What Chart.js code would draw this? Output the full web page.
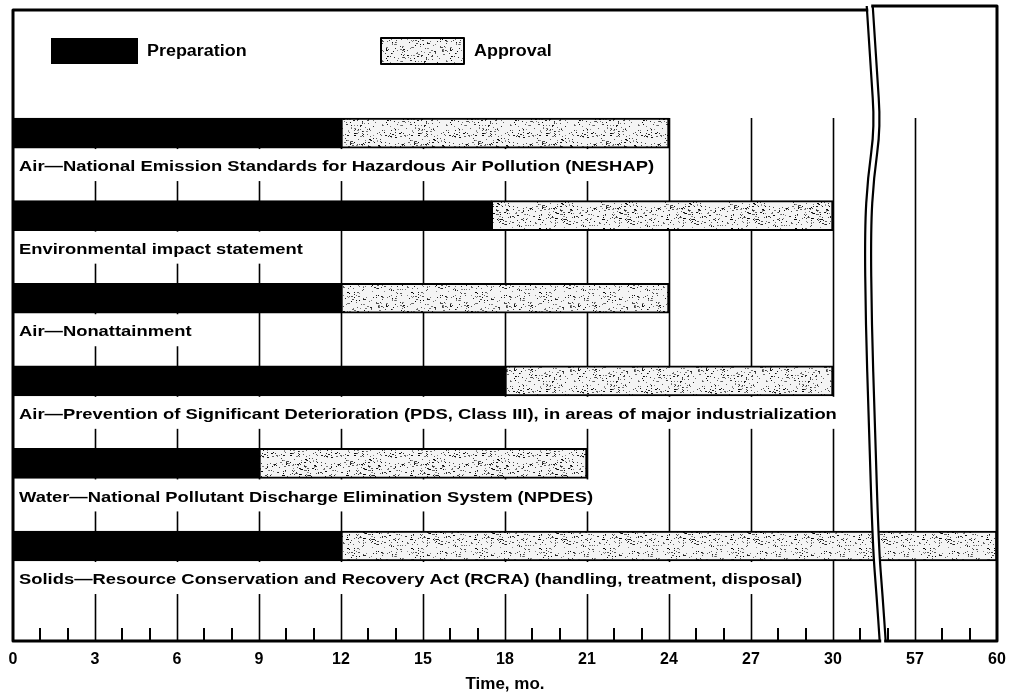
<!DOCTYPE html>
<html>
<head>
<meta charset="utf-8">
<script src="https://cdn.jsdelivr.net/npm/chart.js@4.4.0/dist/chart.umd.min.js"></script>
<style>
  html, body { margin: 0; background: #fff; }
  #wrap { width: 1009px; height: 696px; }
</style>
</head>
<body>
<div id="wrap"><canvas id="c"></canvas></div>
<script>
// ---- Data (months) ----
var ROWS = [
  'Air—National Emission Standards for Hazardous Air Pollution (NESHAP)',
  'Environmental impact statement',
  'Air—Nonattainment',
  'Air—Prevention of Significant Deterioration (PDS, Class III), in areas of major industrialization',
  'Water—National Pollutant Discharge Elimination System (NPDES)',
  'Solids—Resource Conservation and Recovery Act (RCRA) (handling, treatment, disposal)'
];
var PREP_END     = [12, 17.5, 12, 18, 9, 12];
var APPROVAL_END = [24, 30, 24, 30, 21, 60];
var TICK_LABELS  = [0, 3, 6, 9, 12, 15, 18, 21, 24, 27, 30, 57, 60];
var MINOR_TICKS  = [1, 2, 4, 5, 7, 8, 10, 11, 13, 14, 16, 17, 19, 20, 22, 23, 25, 26, 28, 29, 31, 56, 58, 59];
var LEGEND = ['Preparation', 'Approval'];
var AXIS_TITLE = 'Time, mo.';

// Broken axis: months 31.6 .. 55.6 are cut out.
var BREAK_AT = 31.6, BREAK_GAP = 24;
function toAxis(v) { return v > BREAK_AT ? v - BREAK_GAP : v; }
function fromAxis(a) { return a > BREAK_AT + 0.001 ? Math.round(a + BREAK_GAP) : Math.round(a); }

var FONT = "'Liberation Sans', Arial, Helvetica, sans-serif";

// ---- Stipple texture for "Approval" ----
function stipple() {
  var c = document.createElement('canvas');
  c.width = 64; c.height = 64;
  var g = c.getContext('2d');
  g.fillStyle = '#f4f4f4'; g.fillRect(0, 0, 64, 64);
  var s = 12345;
  function rnd() { s = (s * 1103515245 + 12345) & 0x7fffffff; return s / 0x7fffffff; }
  for (var k = 0; k < 400; k++) {
    var x = Math.floor(rnd() * 64), y = Math.floor(rnd() * 64);
    var v = Math.floor(rnd() * 150);
    g.fillStyle = 'rgb(' + v + ',' + v + ',' + v + ')';
    g.fillRect(x, y, rnd() < 0.2 ? 2 : 1, 1);
  }
  return g.createPattern(c, 'repeat');
}
var STIPPLE = stipple();

// wide bold text (the original face is broader than Arial)
function wideText(ctx, txt, x, y, sx) {
  ctx.save(); ctx.translate(x, y); ctx.scale(sx, 1); ctx.fillText(txt, 0, 0); ctx.restore();
}

// ---- Custom drawing: grid, captions, break, frame, legend ----
function waveLeft(top, bottom) {
  // x-offsets (px) of the left break line, relative to the break position
  var pts = [[0, -10], [0.1, -6], [0.19, -2], [0.27, -9], [0.35, -12], [0.5, -11], [0.65, -8], [0.85, -4], [0.93, 0], [1, 3]];
  return pts.map(function (p) { return [p[1], top + p[0] * (bottom - top)]; });
}
function smoothPath(ctx, pts, ox) {
  ctx.moveTo(ox + pts[0][0], pts[0][1]);
  for (var k = 1; k < pts.length - 1; k++) {
    var mx = (pts[k][0] + pts[k + 1][0]) / 2, my = (pts[k][1] + pts[k + 1][1]) / 2;
    ctx.quadraticCurveTo(ox + pts[k][0], pts[k][1], ox + mx, my);
  }
  var e = pts[pts.length - 1];
  ctx.lineTo(ox + e[0], e[1]);
}

var decor = {
  id: 'decor',
  beforeDatasetsDraw: function (chart) {
    var ctx = chart.ctx, x = chart.scales.x, a = chart.chartArea;
    var bar0 = chart.getDatasetMeta(0).data[0];
    var gridTop = bar0.y - bar0.height / 2;
    ctx.save();
    ctx.strokeStyle = '#000';
    ctx.lineWidth = 1.6;
    TICK_LABELS.forEach(function (m) {
      if (m === 0 || m === 60) return;
      var px = Math.round(x.getPixelForValue(toAxis(m))) + 0.5;
      ctx.beginPath(); ctx.moveTo(px, gridTop); ctx.lineTo(px, a.bottom); ctx.stroke();
    });
    ctx.lineWidth = 2;
    MINOR_TICKS.forEach(function (m) {
      var px = Math.round(x.getPixelForValue(toAxis(m)));
      ctx.beginPath(); ctx.moveTo(px, a.bottom - 13); ctx.lineTo(px, a.bottom); ctx.stroke();
    });
    ctx.restore();
  },
  afterDatasetsDraw: function (chart) {
    var ctx = chart.ctx, x = chart.scales.x, a = chart.chartArea;
    var meta = chart.getDatasetMeta(0);
    ctx.save();

    // row captions with white backing (they hide the grid)
    ctx.font = 'bold 15px ' + FONT;
    ctx.textBaseline = 'middle';
    ROWS.forEach(function (txt, i) {
      var b = meta.data[i];
      var top = b.y + b.height / 2 + 1;
      var w = ctx.measureText(txt).width * 1.225;
      ctx.fillStyle = '#fff';
      ctx.fillRect(a.left + 2, top, w + 10, 32);
      ctx.fillStyle = '#000';
      wideText(ctx, txt, a.left + 6, b.y + 34, 1.225);
    });

    // axis break
    var bx = x.getPixelForValue(BREAK_AT);
    var L = waveLeft(a.top - 4, a.bottom + 1);
    var R = L.map(function (p) { return [p[0] + 6, p[1]]; });
    ctx.fillStyle = '#fff';
    ctx.beginPath();
    smoothPath(ctx, L, bx);
    var Rr = R.slice().reverse();
    ctx.lineTo(bx + Rr[0][0], Rr[0][1]);
    for (var k = 1; k < Rr.length; k++) ctx.lineTo(bx + Rr[k][0], Rr[k][1]);
    ctx.closePath(); ctx.fill();
    ctx.strokeStyle = '#000'; ctx.lineWidth = 2.2; ctx.lineJoin = 'round';
    [L, R].forEach(function (pts) { ctx.beginPath(); smoothPath(ctx, pts, bx); ctx.stroke(); });

    // frame
    ctx.lineWidth = 3; ctx.lineCap = 'square';
    ctx.beginPath();
    ctx.moveTo(bx + L[0][0], a.top); ctx.lineTo(a.left, a.top);
    ctx.lineTo(a.left, a.bottom); ctx.lineTo(bx + L[L.length - 1][0], a.bottom);
    ctx.moveTo(bx + R[0][0], a.top - 4); ctx.lineTo(a.right, a.top - 4);
    ctx.lineTo(a.right, a.bottom); ctx.lineTo(bx + R[R.length - 1][0], a.bottom);
    ctx.stroke();

    // legend
    ctx.font = 'bold 16px ' + FONT;
    ctx.fillStyle = '#000';
    ctx.fillRect(51, 38, 87, 26);
    wideText(ctx, LEGEND[0], 147, 52, 1.12);
    ctx.fillStyle = STIPPLE;
    ctx.fillRect(381, 38, 83, 26);
    ctx.lineWidth = 2;
    ctx.strokeRect(381, 38, 83, 26);
    ctx.fillStyle = '#000';
    wideText(ctx, LEGEND[1], 474, 52, 1.12);
    ctx.restore();
  }
};

var prepData = ROWS.map(function (r, i) { return { y: i, x: [0, toAxis(PREP_END[i])] }; });
var apprData = ROWS.map(function (r, i) { return { y: i, x: [toAxis(PREP_END[i]), toAxis(APPROVAL_END[i])] }; });

new Chart(document.getElementById('c'), {
  type: 'bar',
  data: {
    datasets: [
      { label: LEGEND[0], data: prepData, backgroundColor: '#000', borderColor: '#000',
        borderWidth: 2, borderSkipped: false, barThickness: 30, grouped: false },
      { label: LEGEND[1], data: apprData, backgroundColor: STIPPLE, borderColor: '#000',
        borderWidth: 2, borderSkipped: false, barThickness: 30, grouped: false }
    ]
  },
  options: {
    indexAxis: 'y',
    responsive: true, maintainAspectRatio: false, animation: false,
    layout: { padding: { left: 13, right: 12, top: 10, bottom: 0 } },
    plugins: { legend: { display: false }, tooltip: { enabled: false } },
    scales: {
      y: { type: 'linear', reverse: true, offset: false, min: -1.49, max: 6.15, display: false },
      x: {
        type: 'linear', min: 0, max: 36,
        grid: { display: false }, border: { display: false },
        afterBuildTicks: function (s) { s.ticks = TICK_LABELS.map(function (m) { return { value: toAxis(m) }; }); },
        afterFit: function (s) { s.height = 55; },
        ticks: { autoSkip: false, maxRotation: 0, padding: 1, color: '#000',
          font: { family: FONT, size: 16, weight: 'bold' },
          callback: function (v) { return String(fromAxis(v)); } },
        title: { display: true, text: AXIS_TITLE, color: '#000',
          font: { family: FONT, size: 17, weight: 'bold' }, padding: { top: 0, bottom: 1 } }
      }
    }
  },
  plugins: [decor]
});
</script>
</body>
</html>
